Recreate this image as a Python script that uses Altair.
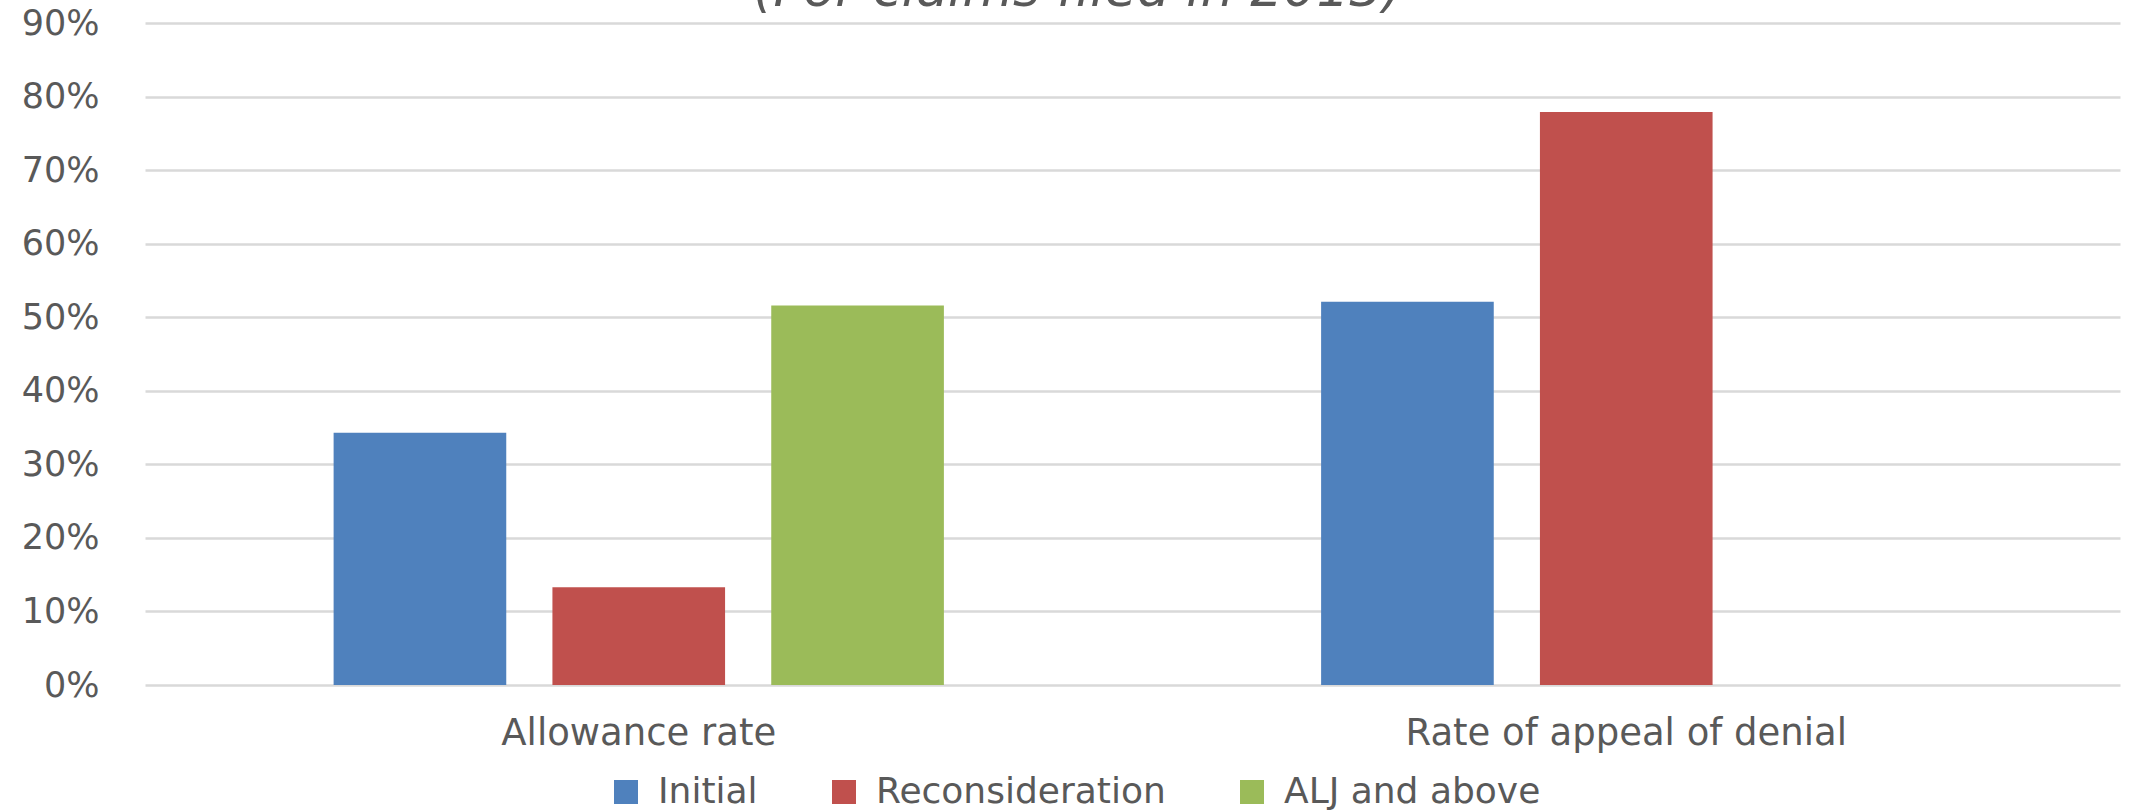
import altair as alt
import pandas as pd

# Rates by appeal level
categories = ["Allowance rate", "Rate of appeal of denial"]
levels = ["Initial", "Reconsideration", "ALJ and above"]
allowance = [0.343, 0.133, 0.516]
appeal = [0.521, 0.779]  # no ALJ-level figure for appeals
subtitle = "(For claims filed in 2013)"

colors = ["#4F81BD", "#C0504D", "#9BBB59"]
gray = "#595959"
font = "DejaVu Sans"

rows = []
for lvl, v in zip(levels, allowance):
    rows.append({"category": categories[0], "level": lvl, "value": v})
for lvl, v in zip(levels, appeal):
    rows.append({"category": categories[1], "level": lvl, "value": v})
df = pd.DataFrame(rows)

W, H = 1975, 662

bars = alt.Chart(df).mark_bar().encode(
    x=alt.X(
        "category:N",
        sort=categories,
        title=None,
        scale=alt.Scale(paddingInner=0.382, paddingOuter=0.191),
        axis=alt.Axis(
            labelAngle=0, labelFont=font, labelFontSize=37, labelColor=gray,
            labelPadding=30, labelLimit=0, domain=False, ticks=False, grid=False,
        ),
    ),
    xOffset=alt.XOffset(
        "level:N",
        sort=levels,
        scale=alt.Scale(domain=levels, paddingInner=0.211, paddingOuter=0),
    ),
    y=alt.Y(
        "value:Q",
        title=None,
        scale=alt.Scale(domain=[0, 0.9], nice=False),
        axis=alt.Axis(
            values=[i / 10 for i in range(10)], format=".0%",
            labelFont=font, labelFontSize=35, labelColor=gray,
            labelPadding=46, domain=False, ticks=False,
            grid=True, gridColor="#d9d9d9", gridWidth=2.5,
        ),
    ),
    color=alt.Color(
        "level:N",
        sort=levels,
        scale=alt.Scale(domain=levels, range=colors),
        legend=alt.Legend(
            title=None, orient="none", direction="horizontal",
            legendX=463, legendY=751,
            symbolType="square", symbolSize=576, symbolStrokeWidth=0,
            labelFont=font, labelFontSize=36, labelColor=gray, labelLimit=0,
            labelOffset=14, columnPadding=68, padding=0,
        ),
    ),
)

title_text = alt.Chart(pd.DataFrame({"t": [subtitle]})).mark_text(
    font=font, fontSize=52, fontStyle="italic", color=gray,
    align="center", baseline="alphabetic",
).encode(
    text="t:N",
    x=alt.value(1078 - 145),
    y=alt.value(-17),
)

chart = alt.layer(bars, title_text).properties(
    width=W,
    height=H,
    autosize=alt.AutoSizeParams(type="none"),
    padding={"left": 145, "top": 23, "right": 11, "bottom": 126},
    background="white",
).configure_view(stroke=None)

chart.save("out.html", embed_options={"renderer": "svg", "actions": False})
